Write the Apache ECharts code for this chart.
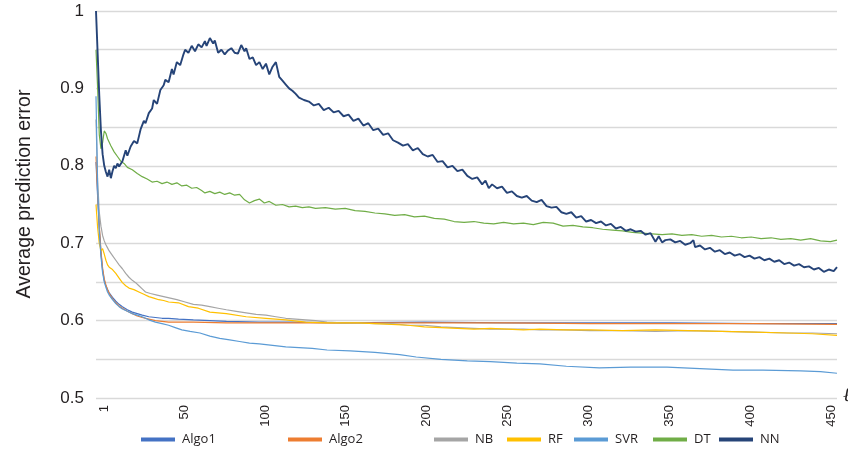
<!DOCTYPE html>
<html>
<head>
<meta charset="utf-8">
<script src="https://cdn.jsdelivr.net/npm/echarts@6/dist/echarts.min.js"></script>
<style>
html,body{margin:0;padding:0;background:#fff;}
#chart{width:848px;height:449px;}
</style>
</head>
<body>
<div id="chart"></div>
<script>
// ---- data: [iteration, average prediction error] ----
const seriesNames = ['Algo1', 'Algo2', 'NB', 'RF', 'SVR', 'DT', 'NN'];
const xTickLabels = [1, 50, 100, 150, 200, 250, 300, 350, 400, 450];
const yTickValues = [0.5, 0.6, 0.7, 0.8, 0.9, 1];

const algo1 = [[1,0.805],[2,0.760],[3,0.720],[4,0.688],[5,0.665],[6,0.652],[7,0.645],[8,0.640],[9,0.636],[11,0.630],[13,0.625],[15,0.621],[17,0.618],[20,0.614],[23,0.611],[26,0.609],[29,0.607],[33,0.605],[37,0.604],[41,0.603],[45,0.603],[51,0.602],[60,0.601],[70,0.600],[80,0.599],[100,0.598],[120,0.598],[150,0.597],[200,0.598],[250,0.597],[300,0.597],[350,0.597],[400,0.596],[450,0.596]];
const algo2 = [[1,0.812],[2,0.765],[3,0.722],[4,0.690],[5,0.668],[6,0.654],[7,0.646],[8,0.640],[9,0.635],[11,0.628],[13,0.623],[15,0.619],[17,0.616],[20,0.612],[23,0.609],[26,0.606],[29,0.604],[33,0.602],[37,0.600],[41,0.599],[45,0.598],[51,0.598],[60,0.598],[80,0.597],[100,0.597],[150,0.597],[200,0.597],[250,0.597],[300,0.596],[350,0.596],[400,0.596],[450,0.595]];
const nb = [[1,0.860],[2,0.780],[3,0.740],[4,0.722],[5,0.710],[6,0.703],[7,0.698],[8,0.694],[9,0.690],[11,0.684],[13,0.678],[15,0.672],[17,0.667],[19,0.661],[21,0.656],[23,0.652],[25,0.649],[27,0.645],[29,0.641],[31,0.637],[34,0.635],[38,0.633],[42,0.631],[46,0.629],[50,0.627],[55,0.624],[60,0.621],[65,0.620],[70,0.618],[75,0.616],[80,0.614],[86,0.612],[92,0.610],[98,0.608],[104,0.607],[110,0.605],[116,0.603],[122,0.602],[128,0.601],[134,0.600],[141,0.598],[150,0.597],[160,0.597],[170,0.596],[180,0.596],[190,0.594],[200,0.594],[210,0.592],[220,0.591],[230,0.590],[240,0.589],[250,0.589],[260,0.589],[270,0.588],[285,0.588],[300,0.587],[320,0.587],[340,0.586],[360,0.587],[380,0.586],[400,0.585],[420,0.584],[435,0.584],[450,0.583]];
const rf = [[1,0.750],[2,0.720],[3,0.700],[4,0.690],[5,0.693],[6,0.686],[7,0.678],[8,0.672],[9,0.669],[11,0.666],[13,0.661],[15,0.655],[17,0.649],[19,0.645],[21,0.642],[24,0.640],[27,0.637],[30,0.634],[33,0.631],[36,0.629],[39,0.627],[42,0.626],[45,0.624],[51,0.623],[57,0.618],[63,0.616],[70,0.611],[80,0.609],[92,0.605],[104,0.603],[116,0.601],[128,0.598],[141,0.597],[150,0.597],[160,0.597],[170,0.596],[180,0.595],[190,0.594],[200,0.592],[210,0.591],[220,0.590],[230,0.589],[240,0.590],[250,0.589],[260,0.588],[270,0.589],[285,0.588],[300,0.588],[320,0.587],[340,0.588],[360,0.587],[380,0.586],[400,0.585],[420,0.584],[435,0.583],[450,0.581]];
const svr = [[1,0.890],[2,0.770],[3,0.715],[4,0.683],[5,0.662],[6,0.650],[7,0.643],[8,0.637],[9,0.633],[11,0.627],[13,0.622],[15,0.618],[17,0.615],[20,0.612],[23,0.609],[26,0.607],[29,0.605],[33,0.601],[37,0.598],[41,0.596],[45,0.594],[49,0.591],[53,0.588],[58,0.586],[64,0.584],[70,0.580],[76,0.577],[82,0.575],[88,0.573],[94,0.571],[100,0.570],[108,0.568],[116,0.566],[124,0.565],[132,0.564],[141,0.562],[155,0.561],[170,0.559],[185,0.556],[195,0.553],[210,0.550],[226,0.548],[240,0.547],[256,0.545],[270,0.544],[286,0.541],[306,0.539],[325,0.540],[347,0.540],[367,0.538],[387,0.536],[405,0.536],[428,0.535],[440,0.534],[450,0.532]];
const dt = [[1,0.950],[2,0.900],[3,0.840],[4,0.822],[5,0.830],[6,0.845],[7,0.842],[8,0.835],[10,0.826],[12,0.818],[14,0.812],[16,0.806],[18,0.803],[20,0.798],[23,0.795],[26,0.790],[29,0.786],[32,0.783],[35,0.779],[38,0.780],[41,0.777],[44,0.779],[47,0.776],[50,0.778],[53,0.774],[56,0.775],[59,0.771],[62,0.772],[65,0.768],[67,0.765],[70,0.767],[73,0.764],[76,0.766],[79,0.763],[82,0.765],[85,0.762],[88,0.763],[91,0.756],[94,0.752],[97,0.755],[100,0.757],[103,0.752],[106,0.754],[110,0.749],[114,0.750],[118,0.747],[122,0.748],[126,0.746],[130,0.747],[134,0.745],[140,0.746],[146,0.744],[152,0.745],[158,0.742],[164,0.741],[170,0.739],[176,0.738],[182,0.736],[188,0.737],[194,0.734],[200,0.735],[206,0.732],[212,0.731],[218,0.728],[224,0.727],[230,0.728],[236,0.726],[242,0.725],[248,0.727],[254,0.725],[260,0.726],[266,0.724],[272,0.727],[278,0.726],[284,0.722],[290,0.723],[296,0.721],[302,0.720],[308,0.718],[314,0.717],[320,0.716],[326,0.714],[332,0.713],[338,0.712],[344,0.711],[350,0.712],[356,0.710],[362,0.711],[368,0.709],[374,0.710],[380,0.708],[386,0.709],[392,0.707],[398,0.708],[404,0.706],[410,0.707],[416,0.705],[422,0.706],[428,0.704],[434,0.706],[440,0.703],[446,0.702],[450,0.704]];
const nn = [[1,1.000],[2,0.945],[3,0.890],[4,0.845],[5,0.815],[6,0.800],[7,0.792],[8,0.786],[9,0.795],[10,0.784],[11,0.793],[12,0.800],[13,0.797],[14,0.803],[15,0.799],[17,0.806],[19,0.820],[20,0.813],[22,0.825],[24,0.832],[26,0.829],[28,0.847],[30,0.858],[31,0.855],[33,0.868],[35,0.874],[36,0.885],[38,0.880],[40,0.898],[42,0.904],[43,0.911],[45,0.908],[47,0.925],[48,0.918],[50,0.934],[52,0.930],[54,0.944],[55,0.950],[57,0.946],[59,0.955],[61,0.948],[63,0.957],[65,0.953],[67,0.961],[68,0.955],[70,0.965],[72,0.958],[73,0.962],[75,0.946],[77,0.950],[79,0.944],[81,0.949],[83,0.952],[85,0.946],[87,0.945],[89,0.956],[91,0.948],[92,0.952],[94,0.938],[96,0.940],[98,0.930],[100,0.934],[102,0.925],[104,0.932],[106,0.918],[108,0.928],[110,0.934],[112,0.915],[114,0.910],[116,0.905],[118,0.900],[120,0.897],[122,0.893],[124,0.888],[127,0.885],[130,0.883],[133,0.878],[136,0.880],[139,0.872],[142,0.875],[145,0.869],[148,0.871],[151,0.864],[154,0.866],[157,0.858],[160,0.861],[163,0.852],[166,0.855],[169,0.846],[172,0.848],[175,0.840],[178,0.842],[181,0.833],[184,0.830],[187,0.826],[190,0.828],[193,0.820],[196,0.823],[199,0.815],[202,0.812],[205,0.814],[208,0.805],[211,0.806],[214,0.798],[217,0.800],[220,0.793],[223,0.795],[226,0.787],[229,0.783],[232,0.785],[235,0.776],[237,0.781],[239,0.771],[241,0.776],[244,0.771],[247,0.773],[250,0.765],[253,0.767],[256,0.761],[259,0.759],[262,0.761],[265,0.755],[268,0.753],[271,0.756],[274,0.748],[277,0.746],[280,0.747],[283,0.740],[286,0.738],[289,0.740],[292,0.733],[295,0.735],[298,0.728],[301,0.730],[304,0.726],[307,0.728],[310,0.723],[313,0.725],[316,0.719],[319,0.721],[322,0.716],[325,0.718],[328,0.715],[331,0.716],[334,0.711],[337,0.713],[340,0.702],[342,0.709],[344,0.701],[346,0.704],[349,0.705],[352,0.701],[355,0.703],[358,0.698],[361,0.700],[363,0.704],[364,0.695],[367,0.697],[370,0.692],[373,0.694],[376,0.689],[379,0.691],[382,0.686],[385,0.688],[388,0.684],[391,0.686],[394,0.682],[397,0.684],[400,0.680],[403,0.682],[406,0.678],[409,0.680],[412,0.676],[415,0.678],[418,0.673],[421,0.675],[424,0.671],[427,0.673],[430,0.669],[433,0.670],[436,0.666],[439,0.668],[442,0.663],[445,0.666],[448,0.664],[450,0.669]];

const seriesData = [algo1, algo2, nb, rf, svr, dt, nn];
const colors = ['#4472C4', '#ED7D31', '#A5A5A5', '#FFC000', '#5B9BD5', '#70AD47', '#264478'];
const lineWidths = [1.2, 1.2, 1.2, 1.2, 1.2, 1.2, 1.9];
const legendLeft = [141, 288, 434, 507, 574, 653, 719];

const chart = echarts.init(document.getElementById('chart'), null, {renderer: 'canvas'});

const legends = seriesNames.map((name, k) => ({
  data: [name],
  left: legendLeft[k],
  top: 433,
  icon: 'rect',
  itemWidth: 34,
  itemHeight: 4,
  itemGap: 0,
  padding: 0,
  textStyle: {fontFamily: 'Open Sans', fontSize: 13, color: '#231f20', padding: [0, 0, 0, 2]}
}));

const option = {
  animation: false,
  color: colors,
  grid: {left: 96, right: 11, top: 11, bottom: 51, containLabel: false},
  legend: legends,
  xAxis: [
    {type: 'value', min: 1, max: 450, show: false},
    {
      type: 'value', min: -4.5, max: 453.7, position: 'bottom',
      axisLine: {show: false}, axisTick: {show: false}, splitLine: {show: false},
      axisLabel: {
        customValues: xTickLabels,
        rotate: 90, margin: 7,
        fontFamily: 'Liberation Sans', fontSize: 13, color: '#231f20'
      }
    }
  ],
  yAxis: {
    type: 'value', min: 0.5, max: 1, interval: 0.05,
    axisLine: {show: false}, axisTick: {show: false},
    splitLine: {lineStyle: {color: '#d9d9d9', width: 1.3}},
    axisLabel: {
      margin: 12, fontFamily: 'Liberation Sans', fontSize: 17, color: '#231f20',
      formatter: function (v) {
        for (const t of yTickValues) { if (Math.abs(v - t) < 1e-6) return t === 1 ? '1' : t.toFixed(1); }
        return '';
      }
    }
  },
  graphic: [{
    type: 'text', x: 25, y: 194, rotation: Math.PI / 2,
    style: {text: 'Average prediction error', font: '19.5px "Liberation Sans"', fill: '#231f20', align: 'center', verticalAlign: 'middle'}
  }, {
    type: 'text', x: 843, y: 396,
    style: {text: 'ℓ', font: 'italic 20px "Liberation Serif"', fill: '#231f20', align: 'left', verticalAlign: 'middle'}
  }],
  series: seriesNames.map((name, k) => ({
    name: name, type: 'line', xAxisIndex: 0, data: seriesData[k],
    showSymbol: false, symbol: 'none',
    lineStyle: {width: lineWidths[k], color: colors[k]},
    itemStyle: {color: colors[k]}
  }))
};
chart.setOption(option);
</script>
</body>
</html>
